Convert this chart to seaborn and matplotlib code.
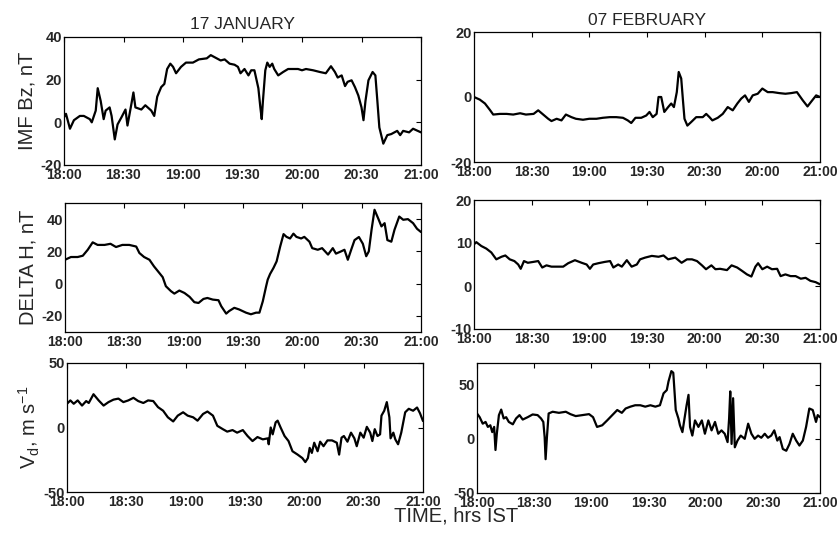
import matplotlib
matplotlib.use("Agg")
import matplotlib.pyplot as plt
import seaborn as sns
import pandas as pd

# ---------------- data (minutes after 18:00 IST, values) ----------------
jan_bz_t = [0, 1, 3, 5, 8, 10, 13, 14, 16, 17, 18.5, 20, 21, 23, 24, 25.6, 27, 29, 31, 32, 34, 35, 36, 39, 41,
            44, 45.5, 47, 49, 50.6, 52, 53.6, 55, 56.5, 59, 61.5, 65, 68, 72, 74, 77, 79, 81, 83.5, 86, 87.7,
            89, 91, 93, 94.4, 96, 98, 99, 99.7, 100.3, 101.5, 102.5, 103.7, 105, 106, 108, 110.5, 113, 115.5,
            118, 120, 122, 125.6, 129, 132, 134.6, 136.6, 138, 140, 141.7, 143, 145, 146.7, 148.4, 150, 151,
            152, 153.5, 155.6, 157, 158, 159, 161, 163, 165, 168, 169.5, 171, 174, 176, 180]
jan_bz_v = [2.4, 4, -3, 1, 3, 3, 1.5, 0, 5.5, 16, 10, 1.5, 5.5, 7, 3, -8, -1, 2.4, 6, -1.5, 8.7, 14, 7, 6,
            8, 5.5, 3, 12, 16.5, 18, 25, 27.5, 26, 23, 26, 28, 28, 29.5, 30, 31.5, 30, 29, 29.5, 27.5, 27, 26,
            23, 25, 22, 24.4, 24.4, 16, 7, 1.5, 10, 24.4, 28, 26, 27.5, 25, 22, 23.6, 25, 25, 25, 24.4, 25,
            24.4, 23.6, 23, 26.3, 23.6, 21, 22, 17, 19, 19.7, 16.5, 12.6, 7, 1, 10, 19.7, 23.6, 22, 10, -2.4,
            -10, -6, -5.5, -4, -6, -4, -4.7, -3, -4.7]

feb_bz_t = [0, 3, 5.7, 8.3, 10, 13.5, 17, 20.4, 24, 27, 31, 33.4, 36, 38.6, 40.3, 43, 45.5, 47.8, 50.7, 53,
            56.7, 60, 63.7, 67, 70.6, 74, 77.5, 80, 81.8, 84, 87, 89.6, 91.3, 93, 95, 96, 97.4, 99, 101,
            102.6, 104, 105.5, 106.5, 107.8, 108.7, 109.5, 111, 113, 115.6, 119, 120.8, 122.5, 124, 126.8,
            129.4, 132, 134.6, 137, 139, 141, 143, 145, 147.6, 150, 152.8, 155.4, 158.8, 162, 165, 168, 171,
            173.5, 176, 178, 180]
feb_bz_v = [0, -0.8, -2, -4, -5.4, -5.2, -5.2, -5.4, -5, -5.4, -5.2, -4.1, -5.4, -6.7, -7.4, -6.7, -7.2, -5.4,
            -6.2, -6.7, -7, -6.7, -6.7, -6.4, -6.2, -6.2, -6.4, -7.2, -8, -6.4, -6.4, -5.7, -4.6, -6.2, -5.2,
            0, 0, -4.6, -3.1, -2, -3.1, 1.5, 7.7, 5.7, -1, -6.7, -8.8, -7.7, -6.2, -6.2, -5.2, -6.2, -7.2,
            -6.4, -5.2, -3.1, -4.1, -2, -0.5, 0.5, -1.5, 0.5, 1, 2.6, 1.5, 1.5, 1.2, 1, 1.2, 1.5, -1, -2.9,
            -1, 0.5, 0]

jan_dh_t = [0, 3, 6.4, 9, 11.5, 14, 16.5, 20, 23, 25.8, 29, 32.5, 36, 37.6, 40, 42.7, 45, 47.7, 49.4, 51, 53.6,
            55.3, 57.8, 60.4, 63, 65.4, 67.5, 70, 72, 74.7, 77.6, 79, 81.5, 83, 85.6, 88, 91.5, 94, 96.6, 98.3,
            100, 101.7, 102.5, 103.7, 105.4, 107, 108.8, 110.5, 112, 113.8, 115.5, 117, 119.4, 121, 123.6, 125,
            127.8, 130, 133, 135.4, 137, 139.6, 141.3, 143, 144.7, 146.4, 148.6, 150.6, 152.3, 153.6, 155,
            156.5, 158.3, 160, 161.6, 163, 165, 166.6, 169, 171, 173.4, 176, 178, 180]
jan_dh_v = [14.8, 16.5, 16.5, 17.3, 21, 25.6, 24, 24, 24.7, 22.7, 24, 24, 23, 19, 16.5, 14.8, 10.7, 6.6, 4,
            -1.6, -4.7, -6.2, -4.3, -5.8, -8.2, -11.5, -12, -9.5, -8.9, -9.9, -10.3, -14, -18.6, -17, -15,
            -16, -18, -19, -18, -18, -11, -1.6, 2.5, 6, 9.7, 13.8, 23, 30.7, 29, 28, 31, 29, 28, 29, 26, 22,
            21, 22, 18, 22, 18.6, 20, 21, 14.8, 21, 27, 28.9, 24.7, 17, 20, 33.4, 45.8, 40.6, 35.5, 37.5, 27,
            26, 33.4, 41.6, 39.6, 40, 37.5, 34, 32]

feb_dh_t = [0, 1.2, 3.8, 6.4, 9, 11.6, 14.3, 16.3, 18.6, 21, 23, 24.3, 26, 28, 30.8, 33.4, 35.5, 37.7, 40.3,
            43.8, 46.4, 49, 52.5, 56, 58.6, 60.3, 62, 64.7, 68, 70.8, 72.5, 75, 76.9, 79.5, 82, 84.7, 86.4, 89,
            92.5, 96, 98.6, 101, 104.7, 108, 110.8, 113.4, 116, 118.6, 120.7, 123.5, 125.6, 128, 131.6, 134,
            136.9, 139.5, 142, 144.3, 146.4, 147.8, 150, 152.5, 155, 157.7, 159.5, 162, 164.7, 167.3, 170,
            172.5, 175, 177.7, 180]
feb_dh_v = [9.7, 10.2, 9.3, 8.7, 7.8, 6.2, 6.8, 7.1, 6.2, 5.8, 5, 4, 5.8, 5.4, 5.6, 5.8, 4.3, 4.8, 4.5, 4.5,
            4.5, 5.3, 6, 5.4, 5, 4, 5, 5.3, 5.6, 5.8, 4.3, 5, 4.5, 6, 4.5, 5, 6.2, 6.6, 7, 6.8, 7.1, 6.2, 6.6,
            5.4, 6.2, 6.2, 5.8, 4.8, 3.9, 4.8, 3.9, 4, 3.7, 4.8, 4.3, 3.5, 2.7, 2.2, 4.5, 5.3, 3.9, 4.5, 3.9,
            4, 2.3, 2.7, 2.3, 2.3, 1.7, 1.9, 1.2, 0.9, 0.4]

jan_vd_t = [0, 1.7, 3.4, 5.4, 7.6, 9.7, 11, 13.4, 16, 18.5, 21, 23.5, 26, 28.5, 31, 33.6, 36, 38.6, 41, 43.6,
            46, 48.6, 51, 53.7, 56, 58.7, 61, 63.8, 66, 68.8, 71, 73.8, 76, 78.8, 81, 83.7, 86, 88.9, 91.3,
            93.8, 96.3, 99, 101.5, 102, 103, 104, 105.5, 106.5, 108, 110, 112, 114, 116.6, 119, 120.5, 121.8,
            122.7, 123.8, 125, 126.7, 128, 129.7, 131.7, 134, 136.4, 137.6, 138.8, 140, 141.8, 143.6, 145.3,
            146.5, 148.3, 150, 151.6, 153.3, 154.4, 155.6, 157, 158.3, 159, 160.4, 161.7, 163, 163.6, 165, 166,
            167.4, 169, 171, 172.8, 175, 177, 178.5, 180]
jan_vd_v = [18.4, 21, 18.4, 21, 17, 20.5, 19, 25.8, 21, 17, 19.7, 21.6, 22.4, 19.7, 21, 23, 20.5, 19, 21, 20.5,
            15.8, 13, 7.9, 4.7, 9.2, 11.8, 9.2, 7.9, 5.3, 10.5, 12.4, 9.2, 1.3, -1.3, -3.2, -2, -4, -2, -6.6,
            -10.5, -7.4, -9.2, -8.4, -13, 0, -5.3, 4, 5.3, 0, -6.6, -10.5, -18.4, -21, -23.7, -26.8, -23.7,
            -15.8, -19.7, -11.8, -18.4, -11, -14.5, -10, -10, -11.8, -21, -7.9, -6.6, -11, -4, -8.4, -14.5,
            -4, -7.9, 0.5, -4, -10.5, -1.3, -6.6, -5.3, 9.2, 13, 19.7, 7.9, -8.4, -4, -9.2, -13, -4, 11.8,
            14.5, 13, 15.5, 11, 5]

feb_vd_t = [0, 1.4, 3, 4.5, 5.7, 7, 8, 9, 9.7, 10.4, 11.5, 12.7, 14, 15.3, 16.7, 18.8, 20.5, 22.3, 24, 26.6,
            29.2, 31.8, 33.6, 34.8, 35.5, 36, 36.7, 37.6, 39.7, 43, 46.6, 49, 51.8, 55.3, 58.8, 60.9, 63, 65.7,
            68.3, 71, 73.6, 76, 78, 80.5, 83, 85.7, 88.3, 91, 93.6, 96, 97.9, 99.6, 100.5, 102, 103, 104.3,
            105.7, 106.5, 107.8, 108.9, 110, 111, 111.8, 113, 114.4, 116.2, 118, 119.6, 121.4, 123.1, 124.9,
            126.6, 128.3, 130, 131.5, 132.3, 132.9, 133.6, 134.4, 135.3, 136.7, 138.4, 140.5, 142.3, 144,
            145.7, 147.5, 149.2, 151, 152.7, 154.4, 156, 157.6, 158.8, 160.5, 162.3, 164, 165.7, 167.5,
            169.2, 171, 172.7, 174.4, 176.2, 177.9, 178.8, 180]
feb_vd_v = [23.4, 20, 14, 15.6, 11, 12.5, 6.2, 11, -10.3, 4.7, 21.9, 27, 18.8, 20, 15.6, 13.4, 18.8, 21.9,
            17.8, 20, 22.5, 21.9, 18.8, 15.6, 1.6, -18.8, 1.6, 23.4, 25, 24, 25, 22.8, 21, 21.9, 22.8, 20, 11,
            12.5, 17, 21.9, 26.6, 24, 28, 29.7, 31, 31, 29.7, 31, 29.7, 31, 42, 45, 53, 62.5, 61, 26.6, 18.8,
            12.5, 6.2, 18.8, 31, 40.6, 11, 3, 17, 11, 17, 4.7, 17, 7.8, 15.6, 4.7, 7.8, 4.7, -3, 18.8, 43.8,
            -4.7, 37.5, -7.8, -1.6, 3, 0, 14, 4.7, 0, 3, 1, 4.7, 1, 3, 7.8, -1.6, 1.6, -9.4, -11, -4.7, 4.7,
            -1.6, -6.2, -1.6, 11, 28, 26.6, 15.6, 21.9, 20]

xticks = [0, 30, 60, 90, 120, 150, 180]
xlabels_std = ["18:00", "18:30", "19:00", "19:30", "20:00", "20:30", "21:00"]
xlabels_feb_top = ["18:00", "18:30", "19:00", "19:30", "20:30", "20:00", "21:00"]

titles = ["17 JANUARY", "07 FEBRUARY"]
ylabels = ["IMF Bz, nT", "DELTA H, nT", r"V$_{\mathregular{d}}$, m s$^{\mathregular{-1}}$"]
xlabel = "TIME, hrs IST"

# ---------------- figure ----------------
sns.set_style("white")
plt.rcParams["font.family"] = ["Liberation Sans", "DejaVu Sans"]
plt.rcParams["mathtext.fontset"] = "custom"
plt.rcParams["mathtext.rm"] = "Liberation Sans"

fig = plt.figure(figsize=(8.39, 5.41), dpi=100)

W, H = 839.0, 541.0
def box(x0, y0, x1, y1):
    return [x0 / W, 1 - y1 / H, (x1 - x0) / W, (y1 - y0) / H]

panels = [
    dict(pos=box(64, 37, 421, 165), t=jan_bz_t, v=jan_bz_v, ylim=(-20, 40), yt=[-20, 0, 20, 40], xl=xlabels_std),
    dict(pos=box(474, 32, 820, 162), t=feb_bz_t, v=feb_bz_v, ylim=(-20, 20), yt=[-20, 0, 20], xl=xlabels_feb_top),
    dict(pos=box(65, 203, 421, 332), t=jan_dh_t, v=jan_dh_v, ylim=(-30, 50), yt=[-20, 0, 20, 40], xl=xlabels_std),
    dict(pos=box(474, 200, 820, 329), t=feb_dh_t, v=feb_dh_v, ylim=(-10, 20), yt=[-10, 0, 10, 20], xl=xlabels_std),
    dict(pos=box(67, 363, 423, 492), t=jan_vd_t, v=jan_vd_v, ylim=(-50, 50), yt=[-50, 0, 50], xl=xlabels_std),
    dict(pos=box(477, 363, 820, 493), t=feb_vd_t, v=feb_vd_v, ylim=(-50, 70), yt=[-50, 0, 50], xl=xlabels_std),
]

xfont = dict(family=["Liberation Sans", "DejaVu Sans"], weight="bold", size=10)
yfont = dict(family=["Liberation Sans", "DejaVu Sans"], weight="bold", size=10.5)

axes = []
for i, p in enumerate(panels):
    ax = fig.add_axes(p["pos"])
    df = pd.DataFrame({"t": p["t"], "v": p["v"]})
    sns.lineplot(data=df, x="t", y="v", ax=ax, color="black", linewidth=1.6, estimator=None)
    ax.set_xlim(0, 180)
    ax.set_ylim(*p["ylim"])
    ax.set_xticks(xticks)
    ax.set_xticklabels(p["xl"], fontdict=xfont)
    ax.set_yticks(p["yt"])
    ax.set_yticklabels([str(v) for v in p["yt"]], fontdict=yfont)
    ax.tick_params(direction="in", length=3.5, width=0.8, top=True, right=True,
                   labeltop=False, labelright=False, color="black")
    ax.tick_params(axis="x", pad=2.5)
    ax.tick_params(axis="y", pad=1.5)
    for s in ax.spines.values():
        s.set_color("black")
        s.set_linewidth(0.9)
    ax.set_xlabel("")
    ax.set_ylabel("")
    axes.append(ax)

axes[0].set_title(titles[0], fontsize=12.5, pad=6)
axes[1].set_title(titles[1], fontsize=12.5, pad=5)

for row, ax in zip(range(3), [axes[0], axes[2], axes[4]]):
    ax.set_ylabel(ylabels[row], fontsize=14.5, va="center")
    ax.yaxis.set_label_coords(-0.105, 0.5)

fig.text(456 / W, 1 - 522 / H, xlabel, ha="center", va="baseline", fontsize=14.5)

fig.savefig("out.png", dpi=100)
